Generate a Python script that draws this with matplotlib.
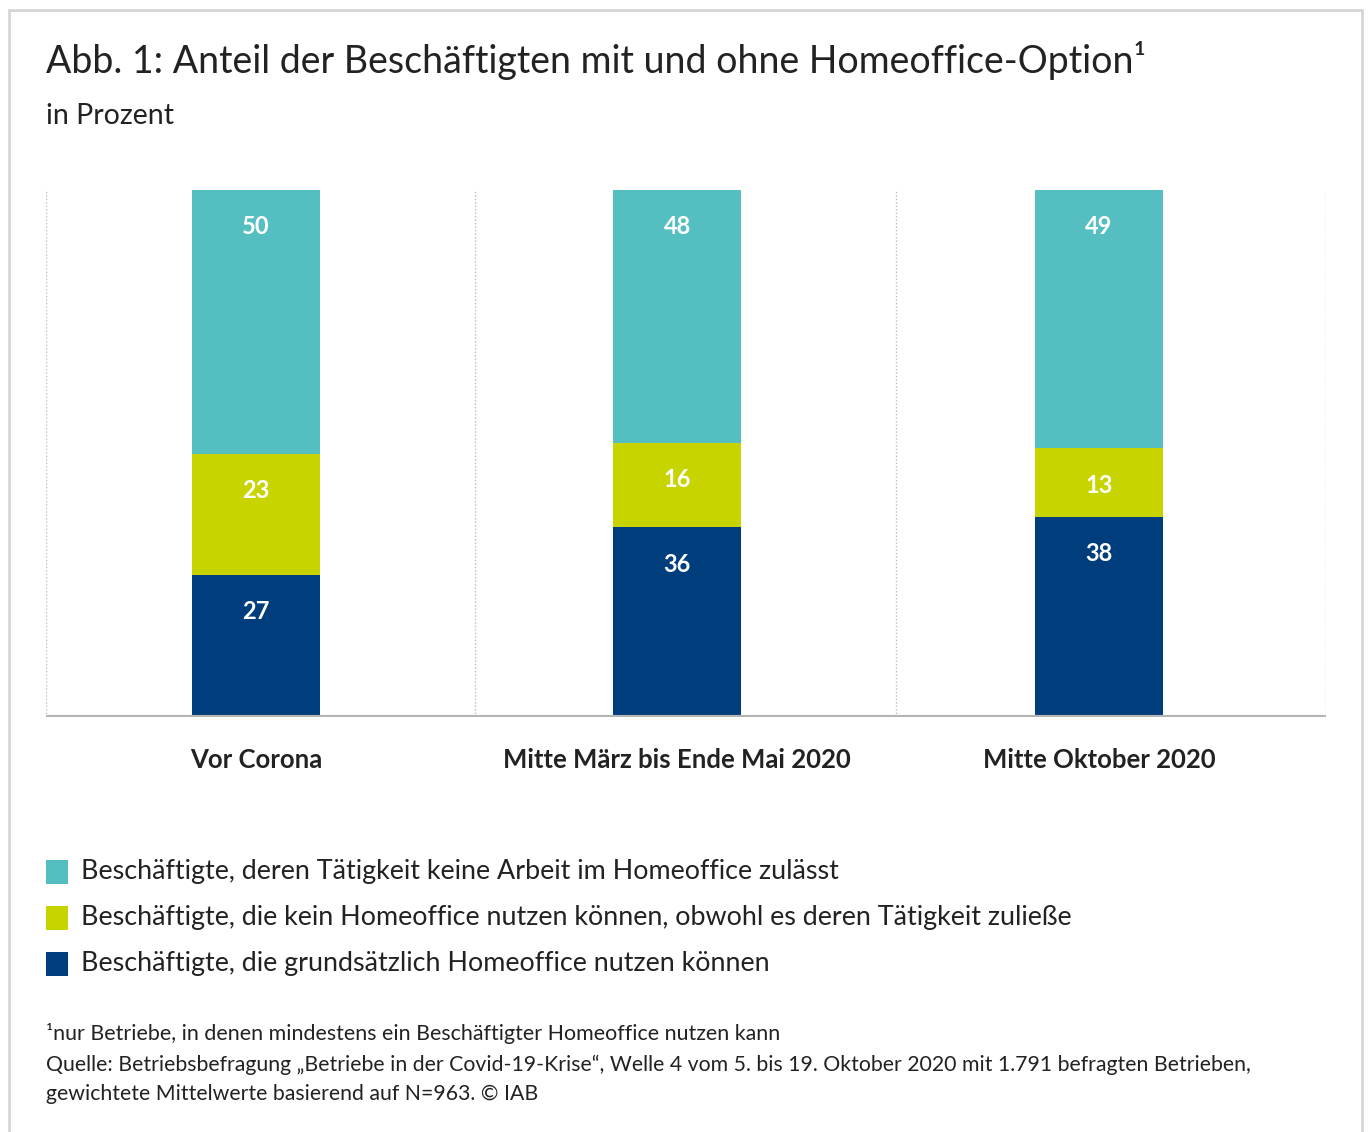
import matplotlib
matplotlib.use("Agg")
import matplotlib.pyplot as plt
from matplotlib.patches import Rectangle

plt.rcParams['font.family'] = ['Lato', 'DejaVu Sans']

categories = ["Vor Corona", "Mitte März bis Ende Mai 2020", "Mitte Oktober 2020"]
series_names = [
    "Beschäftigte, die grundsätzlich Homeoffice nutzen können",
    "Beschäftigte, die kein Homeoffice nutzen können, obwohl es deren Tätigkeit zuließe",
    "Beschäftigte, deren Tätigkeit keine Arbeit im Homeoffice zulässt",
]
can_use = [27, 36, 38]
could_not = [23, 16, 13]
not_possible = [50, 48, 49]
colors = ["#003D7C", "#C8D400", "#55BEC0"]

title = "Abb. 1: Anteil der Beschäftigten mit und ohne Homeoffice-Option¹"
subtitle = "in Prozent"
footnote1 = "¹nur Betriebe, in denen mindestens ein Beschäftigter Homeoffice nutzen kann"
footnote2 = ("Quelle: Betriebsbefragung „Betriebe in der Covid-19-Krise“, Welle 4 vom 5. bis 19. Oktober 2020 mit 1.791 befragten Betrieben,\n"
             "gewichtete Mittelwerte basierend auf N=963. © IAB")

W, H = 1368, 1132
fig = plt.figure(figsize=(W / 100, H / 100), dpi=100)
fig.patch.set_facecolor("white")

# frame
fig.add_artist(Rectangle((9 / W, -0.01), (1362 - 9) / W, 1 - 10 / H + 0.01,
                         transform=fig.transFigure, fill=False,
                         edgecolor="#d6d6d6", linewidth=2))

ax = fig.add_axes([46 / W, 1 - 717 / H, (1326 - 46) / W, (717 - 190) / H])
x = list(range(len(categories)))
series = [can_use, could_not, not_possible]
bottom = [0, 0, 0]
bw = 0.304
for vals, col in zip(series, colors):
    ax.bar(x, vals, bw, bottom=bottom, color=col, zorder=3)
    for xi, v, b in zip(x, vals, bottom):
        ax.annotate(f"{v}", (xi, b + v), xytext=(0, -26.5), textcoords="offset points",
                    ha="center", va="center", color="white", fontsize=17,
                    fontweight="bold", zorder=4)
    bottom = [b + v for b, v in zip(bottom, vals)]

ax.set_xlim(-0.498, 2.539)
ax.set_ylim(0, 100)
for gx in [-0.498, 0.52, 1.518, 2.539]:
    ax.axvline(gx, color="#bdbdbd", linestyle=(0, (1, 1.5)), linewidth=1, zorder=1)
ax.axhline(0, color="#b5b5b5", linewidth=3, zorder=5)
for s in ax.spines.values():
    s.set_visible(False)
ax.set_yticks([])
ax.set_xticks(x)
ax.set_xticklabels(categories, fontsize=18.5, fontweight="bold", color="#222222")
ax.tick_params(axis="x", length=0, pad=22)

fig.text(46 / W, 1 - 60 / H, title, fontsize=27, color="#222222", va="center", ha="left")
fig.text(46 / W, 1 - 116 / H, subtitle, fontsize=20.5, color="#222222", va="center", ha="left")

# legend
leg_items = list(zip(series_names, colors))[::-1]
leg_y = [872, 918, 964]
for (name, col), ly in zip(leg_items, leg_y):
    fig.add_artist(Rectangle((46 / W, 1 - (ly + 12) / H), 22 / W, 24 / H,
                             transform=fig.transFigure, facecolor=col, edgecolor="none"))
    fig.text(81 / W, 1 - ly / H, name, fontsize=19.4, color="#222222", va="center", ha="left")

fig.text(46 / W, 1 - 1034 / H, footnote1, fontsize=15.4, color="#222222", va="center", ha="left")
fig.text(46 / W, 1 - 1055 / H, footnote2, fontsize=15.3, color="#222222", va="top", ha="left",
         linespacing=1.55)

fig.savefig("out.png", dpi=100, facecolor="white")
